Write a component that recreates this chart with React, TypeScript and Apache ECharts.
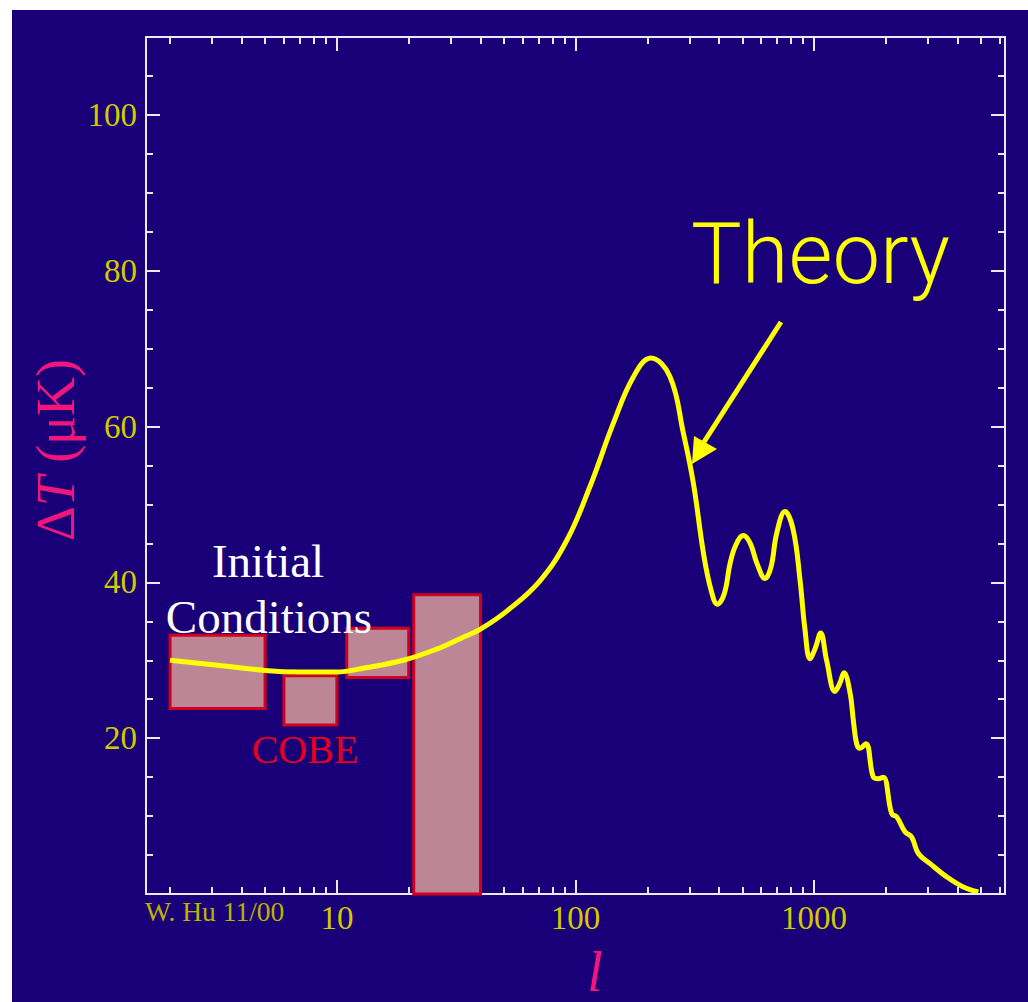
import React, { useEffect, useRef } from "react";
import * as echarts from "echarts";

// ---- data ----
const theoryL = [2, 3.1, 5, 7, 10, 13, 19, 26, 33, 40, 52, 71, 92, 115, 144, 175, 207, 249, 283, 312, 344, 370, 393, 420, 445, 470, 505, 540, 575, 623, 660, 697, 755, 818, 873, 916, 961, 1010, 1065, 1128, 1223, 1280, 1334, 1415, 1460, 1507, 1556, 1650, 1771, 1858, 1950, 2115, 2220, 2404, 2565, 2735, 3062, 3596, 4220, 4880];
const theoryT = [30.0, 29.4, 28.7, 28.5, 28.5, 29.0, 30.0, 31.4, 32.8, 34.0, 36.4, 40.2, 45.4, 52.3, 60.4, 66.4, 68.8, 66.4, 59.2, 52.7, 43.7, 39.0, 37.2, 38.5, 42.5, 44.8, 46.0, 45.0, 42.5, 40.5, 42.0, 46.3, 49.1, 46.7, 40.3, 33.9, 30.2, 31.5, 33.5, 30.0, 26.0, 27.0, 28.4, 25.8, 22.3, 19.3, 18.7, 19.3, 15.0, 14.8, 15.0, 10.3, 9.9, 8.0, 7.3, 5.2, 3.9, 2.2, 0.9, 0.27];

const cobeLMin = [2, 6, 11, 21];
const cobeLMax = [5, 10, 20, 40];
const cobeTLow = [23.8, 21.7, 27.8, 0];
const cobeTHigh = [33.2, 28.0, 34.1, 38.4];

const xMajorTicks = [10, 100, 1000];
const xMinorTicks = [2, 3, 4, 5, 6, 7, 8, 9, 20, 30, 40, 50, 60, 70, 80, 90, 200, 300, 400, 500, 600, 700, 800, 900, 2000, 3000, 4000, 5000, 6000];
const yMajorTicks = [20, 40, 60, 80, 100];
const yMinorTicks = [5, 10, 15, 25, 30, 35, 45, 50, 55, 65, 70, 75, 85, 90, 95, 105];

const X_MIN = 1.585;
const X_MAX = 6310;
const Y_MIN = 0;
const Y_MAX = 110;

const NAVY = "#1a0078";
const FRAME = "#ebe7f3";
const LABEL_YELLOW = "#d2ca00";
const PINK = "#f2167c";
const SERIF = "'Liberation Serif', 'DejaVu Serif', serif";

function xAxisDef(position: string, ticks: number[], len: number, showLine: boolean, showLabel: boolean) {
  return {
    type: "log",
    logBase: 10,
    min: X_MIN,
    max: X_MAX,
    position,
    axisLine: { show: showLine, onZero: false, lineStyle: { color: FRAME, width: 2 } },
    axisTick: { show: true, inside: true, length: len, customValues: ticks, lineStyle: { color: FRAME, width: 2 } },
    axisLabel: {
      show: showLabel,
      customValues: xMajorTicks,
      formatter: (v: number) => String(Math.round(v)),
      color: LABEL_YELLOW,
      fontFamily: SERIF,
      fontSize: 33,
      margin: 7,
    },
    splitLine: { show: false },
    minorTick: { show: false },
  };
}

function yAxisDef(position: string, ticks: number[], len: number, showLine: boolean, showLabel: boolean) {
  return {
    type: "value",
    min: Y_MIN,
    max: Y_MAX,
    position,
    axisLine: { show: showLine, onZero: false, lineStyle: { color: FRAME, width: 2 } },
    axisTick: { show: true, inside: true, length: len, customValues: ticks, lineStyle: { color: FRAME, width: 2 } },
    axisLabel: {
      show: showLabel,
      customValues: yMajorTicks,
      color: LABEL_YELLOW,
      fontFamily: SERIF,
      fontSize: 33,
      margin: 9,
    },
    splitLine: { show: false },
    minorTick: { show: false },
  };
}

export default function App() {
  const ref = useRef<HTMLDivElement>(null);
  useEffect(() => {
    if (!ref.current) return;
    const chart = echarts.init(ref.current, undefined, { renderer: "svg" });
    const cobeData = cobeLMin.map((l, i) => [l, cobeLMax[i], cobeTLow[i], cobeTHigh[i]]);
    const theoryData = theoryL.map((l, i) => [l, theoryT[i]]);
    chart.setOption({
      animation: false,
      backgroundColor: NAVY,
      grid: { left: 146, top: 37, right: 23, bottom: 108, containLabel: false },
      xAxis: [
        xAxisDef("bottom", xMajorTicks, 14, true, true),
        xAxisDef("bottom", xMinorTicks, 7, false, false),
        xAxisDef("top", xMajorTicks, 14, true, false),
        xAxisDef("top", xMinorTicks, 7, false, false),
      ],
      yAxis: [
        yAxisDef("left", yMajorTicks, 14, true, true),
        yAxisDef("left", yMinorTicks, 7, false, false),
        yAxisDef("right", yMajorTicks, 14, true, false),
        yAxisDef("right", yMinorTicks, 7, false, false),
      ],
      series: [
        {
          type: "custom",
          name: "COBE",
          xAxisIndex: 0,
          yAxisIndex: 0,
          z: 2,
          data: cobeData,
          renderItem: (params: any, api: any) => {
            const p0 = api.coord([api.value(0), api.value(3)]);
            const p1 = api.coord([api.value(1), api.value(2)]);
            return {
              type: "rect",
              shape: { x: p0[0], y: p0[1], width: p1[0] - p0[0], height: p1[1] - p0[1] },
              style: { fill: "#bd8696", stroke: "#d2001e", lineWidth: 3 },
            };
          },
        },
        {
          type: "line",
          name: "Theory",
          xAxisIndex: 0,
          yAxisIndex: 0,
          z: 3,
          data: theoryData,
          smooth: 0.4,
          symbol: "none",
          lineStyle: { color: "#ffff00", width: 5 },
        },
      ],
      graphic: [
        { type: "rect", shape: { x: 0, y: 0, width: 1028, height: 10 }, style: { fill: "#ffffff" }, z: 100 },
        { type: "rect", shape: { x: 0, y: 0, width: 12, height: 1002 }, style: { fill: "#ffffff" }, z: 100 },
        {
          type: "text", x: 56, y: 450, rotation: Math.PI / 2, z: 100,
          style: {
            text: "{n|Δ}{i|T}{n| (μK)}",
            align: "center", verticalAlign: "middle",
            rich: {
              n: { fontFamily: SERIF, fontSize: 54, fill: PINK },
              i: { fontFamily: SERIF, fontSize: 54, fontStyle: "italic", fill: PINK },
            },
          },
        },
        {
          type: "text", x: 595, y: 972, z: 100,
          style: { text: "l", fontFamily: SERIF, fontStyle: "italic", fontSize: 56, fill: PINK, align: "center", verticalAlign: "middle" },
        },
        {
          type: "text", x: 145, y: 911, z: 100,
          style: { text: "W. Hu 11/00", fontFamily: SERIF, fontSize: 27.5, fill: "#bcb200", align: "left", verticalAlign: "middle" },
        },
        {
          type: "text", x: 268, y: 561, z: 100,
          style: { text: "Initial", fontFamily: SERIF, fontSize: 47, fill: "#ffffff", align: "center", verticalAlign: "middle" },
        },
        {
          type: "text", x: 269, y: 617, z: 100,
          style: { text: "Conditions", fontFamily: SERIF, fontSize: 47, fill: "#ffffff", align: "center", verticalAlign: "middle" },
        },
        {
          type: "text", x: 305, y: 749, z: 100,
          style: { text: "COBE", fontFamily: SERIF, fontSize: 40, fill: "#e8001a", align: "center", verticalAlign: "middle" },
        },
        {
          type: "text", x: 691, y: 254, z: 100,
          style: { text: "Theory", fontFamily: "Roboto, 'Open Sans', sans-serif", fontWeight: 300, fontSize: 85, fill: "#ffff00", align: "left", verticalAlign: "middle" },
        },
        {
          type: "line", z: 100,
          shape: { x1: 781, y1: 322, x2: 704, y2: 442 },
          style: { stroke: "#ffff00", lineWidth: 5 },
        },
        {
          type: "polygon", z: 100,
          shape: { points: [[692, 464], [694, 436], [717, 449]] },
          style: { fill: "#ffff00" },
        },
      ],
    });
    return () => chart.dispose();
  }, []);
  return <div ref={ref} style={{ position: "fixed", left: 0, top: 0, width: 1028, height: 1002 }} />;
}
